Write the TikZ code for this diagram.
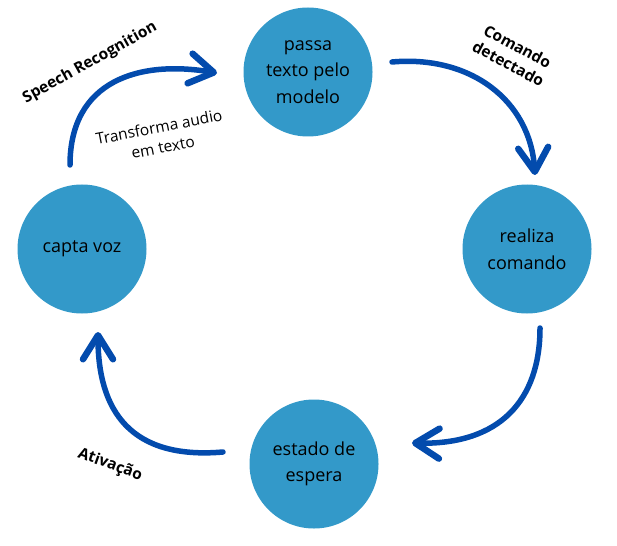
\documentclass[tikz,border=0pt]{standalone}
\usepackage{fontspec}
\setmainfont{Open Sans}
\usetikzlibrary{arrows.meta}
\definecolor{bolha}{RGB}{51,153,201}
\definecolor{seta}{RGB}{3,75,173}
\tikzset{
  estado/.style={circle, fill=bolha, minimum size=129pt, inner sep=0pt, align=center, font=\fontsize{18}{26.5}\selectfont},
  fluxo/.style={seta, line width=5.5pt, line cap=round, -{Straight Barb[length=24pt, width=30pt, round, line width=6.5pt]}},
  rotulo/.style={font=\fontsize{15.5}{19.5}\selectfont\bfseries, align=center, inner sep=1pt}
}
\begin{document}
\begin{tikzpicture}[x=1pt, y=-1pt]
    \useasboundingbox (0,0) rectangle (617,545);
    \node[estado] (passa) at (308,72) {passa\\texto pelo\\modelo};
    \node[estado] (realiza) at (527,249) {realiza\\comando};
    \node[estado] (espera) at (314,464) {estado de\\espera};
    \node[estado] (capta) at (82,249) {capta voz};
	% setas do ciclo
    \coordinate (s1) at (70,165);  \coordinate (e1) at (217,73);
    \coordinate (s2) at (392,62);  \coordinate (e2) at (535,175);
    \coordinate (s3) at (540,328); \coordinate (e3) at (412,443);
    \coordinate (s4) at (223,452); \coordinate (e4) at (98,332);
    \draw[fluxo] (s1) .. controls (70,80) and (140,60) .. (e1);
    \draw[fluxo] (s2) .. controls (470,55) and (530,100) .. (e2);
    \draw[fluxo] (s3) .. controls (540,400) and (500,445) .. (e3);
    \draw[fluxo] (s4) .. controls (130,460) and (98,410) .. (e4);
	% rotulos
    \node[rotulo, rotate=29] (sr) at (90,63) {Speech Recognition};
    \node[font=\fontsize{15.5}{20.5}\selectfont, align=center, rotate=11, inner sep=1pt] (ta) at (161,137) {Transforma audio\\em texto};
    \node[rotulo, rotate=-28] (cd) at (513,55) {Comando\\detectado};
    \node[rotulo, rotate=-20] (at) at (110,465) {Ativação};
\end{tikzpicture}
\end{document}
